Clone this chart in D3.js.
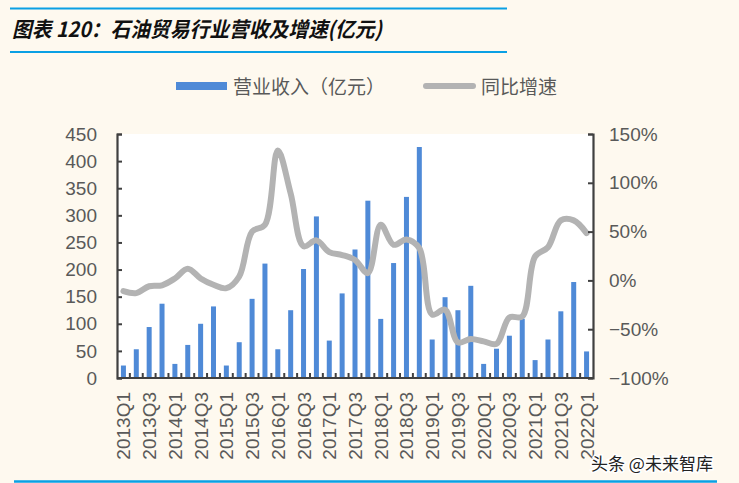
<!DOCTYPE html>
<html><head><meta charset="utf-8">
<script src="https://cdn.jsdelivr.net/npm/d3@7"></script>
<style>
html,body{margin:0;padding:0;background:#FEF9EF;}
svg{display:block;}
</style></head>
<body><svg id="c" width="739" height="483"></svg>
<script>
const quarters = ["2013Q1","2013Q2","2013Q3","2013Q4","2014Q1","2014Q2","2014Q3","2014Q4",
"2015Q1","2015Q2","2015Q3","2015Q4","2016Q1","2016Q2","2016Q3","2016Q4",
"2017Q1","2017Q2","2017Q3","2017Q4","2018Q1","2018Q2","2018Q3","2018Q4",
"2019Q1","2019Q2","2019Q3","2019Q4","2020Q1","2020Q2","2020Q3","2020Q4",
"2021Q1","2021Q2","2021Q3","2021Q4","2022Q1"];
const revenue = [23,53,94,137,26,61,100,132,23,66,146,211,53,125,201,298,
69,156,237,327,109,212,334,426,71,149,125,170,26,54,78,109,33,71,123,177,49];
const growth = [-11,-13,-6,-5,2,12,2,-4.5,-8,4,50,57,133,89,35,41,
29,26,21,7.5,57,36.5,42,33,-35,-30,-63.5,-60,-62.5,-65,-38,-37,24.5,34,61.5,61.5,48.5];
const leftTicks = [0,50,100,150,200,250,300,350,400,450];
const rightTicks = [-1,-0.5,0,0.5,1,1.5];
const titleText = "图表 120：石油贸易行业营收及增速(亿元)";
const legendNames = ["营业收入（亿元）","同比增速"];
const watermark = "头条 @未来智库";

const svg = d3.select("#c");
const L = 117, R = 593, T = 134, B = 378;
const x = d3.scaleBand().domain(quarters).range([L, R]).paddingInner(0).paddingOuter(0);
const yL = d3.scaleLinear().domain([0, 450]).range([B, T]);
const yR = d3.scaleLinear().domain([-1, 1.5]).range([B, T]);
const axisColor = "#404040", textColor = "#595959";
const font = "'Liberation Sans', Arial, sans-serif";
const cjk = "'Noto Sans CJK SC', 'Noto Sans', sans-serif";

// title + rules
svg.append("line").attr("x1",10).attr("x2",507).attr("y1",8.5).attr("y2",8.5).attr("stroke","#0AA0E4").attr("stroke-width",2.2);
svg.append("line").attr("x1",10).attr("x2",507).attr("y1",52).attr("y2",52).attr("stroke","#0AA0E4").attr("stroke-width",2.2);
svg.append("text").attr("x",12).attr("y",37).text(titleText)
  .attr("font-family",cjk).attr("font-weight","bold").attr("font-style","italic")
  .attr("font-size",21).attr("fill","#111").attr("transform","")
  .attr("textLength",370).attr("lengthAdjust","spacingAndGlyphs");
svg.append("line").attr("x1",14).attr("x2",717).attr("y1",481.5).attr("y2",481.5).attr("stroke","#0AA0E4").attr("stroke-width",2.5);

// plot area
svg.append("rect").attr("x",L).attr("y",T).attr("width",R-L).attr("height",B-T).attr("fill","#fff");

// bars
const bw = 5;
svg.append("g").selectAll("rect").data(revenue).join("rect")
  .attr("x",(d,i)=>x(quarters[i]) + x.bandwidth()/2 - bw/2)
  .attr("y",d=>yL(d)).attr("width",bw).attr("height",d=>B - yL(d))
  .attr("fill","#4F8AD7");

// bottom ticks at band boundaries
const bounds = quarters.slice(1).map(q=>x(q));
svg.append("g").selectAll("line").data(bounds).join("line")
  .attr("x1",d=>d).attr("x2",d=>d).attr("y1",B).attr("y2",B-5)
  .attr("stroke",axisColor).attr("stroke-width",2);

// line
const line = d3.line().x((d,i)=>x(quarters[i]) + x.bandwidth()/2).y(d=>yR(d/100)).curve(d3.curveCatmullRom.alpha(0.5));
svg.append("path").datum(growth).attr("d",line).attr("fill","none")
  .attr("stroke","#B3B3B3").attr("stroke-width",6).attr("stroke-linecap","round").attr("stroke-linejoin","round");

// axes
const gl = svg.append("g").attr("transform",`translate(${L},0)`)
  .call(d3.axisRight(yL).tickValues(leftTicks).tickSize(5).tickFormat(""));
const gr = svg.append("g").attr("transform",`translate(${R},0)`)
  .call(d3.axisLeft(yR).tickValues(rightTicks).tickSize(5).tickFormat(""));
[gl,gr].forEach(g=>{
  g.select(".domain").attr("stroke",axisColor).attr("stroke-width",2.2);
  g.selectAll(".tick line").attr("stroke",axisColor).attr("stroke-width",2);
});
svg.append("line").attr("x1",L).attr("x2",R).attr("y1",B).attr("y2",B).attr("stroke",axisColor).attr("stroke-width",2.2);

// left labels
svg.append("g").selectAll("text").data(leftTicks).join("text")
  .attr("x",97).attr("y",d=>yL(d)).attr("dy","0.35em").attr("text-anchor","end")
  .attr("font-family",font).attr("font-size",19).attr("fill",textColor).text(d=>d);
// right labels
svg.append("g").selectAll("text").data(rightTicks).join("text")
  .attr("x",609).attr("y",d=>yR(d)).attr("dy","0.35em").attr("text-anchor","start")
  .attr("font-family",font).attr("font-size",19).attr("fill",textColor).text(d=>d3.format(".0%")(d));
// x labels
svg.append("g").selectAll("text").data(quarters.filter((q,i)=>i%2===0)).join("text")
  .attr("transform",d=>`translate(${x(d)+x.bandwidth()/2+7},392) rotate(-90)`)
  .attr("text-anchor","end").attr("font-family",font).attr("font-size",19).attr("fill",textColor).text(d=>d);

// legend
svg.append("rect").attr("x",176).attr("y",82).attr("width",51).attr("height",8).attr("fill","#4F8AD7");
svg.append("text").attr("x",233).attr("y",94).text(legendNames[0]).attr("font-family",cjk).attr("font-size",19).attr("fill",textColor);
svg.append("line").attr("x1",426).attr("x2",473).attr("y1",86).attr("y2",86).attr("stroke","#B3B3B3").attr("stroke-width",6).attr("stroke-linecap","round");
svg.append("text").attr("x",481).attr("y",94).text(legendNames[1]).attr("font-family",cjk).attr("font-size",19).attr("fill",textColor);

// watermark
svg.append("text").attr("x",591).attr("y",470).text(watermark).attr("font-family",cjk).attr("font-size",17)
  .attr("fill","#222").attr("stroke","#fff").attr("stroke-width",3).attr("paint-order","stroke");
</script></body></html>
